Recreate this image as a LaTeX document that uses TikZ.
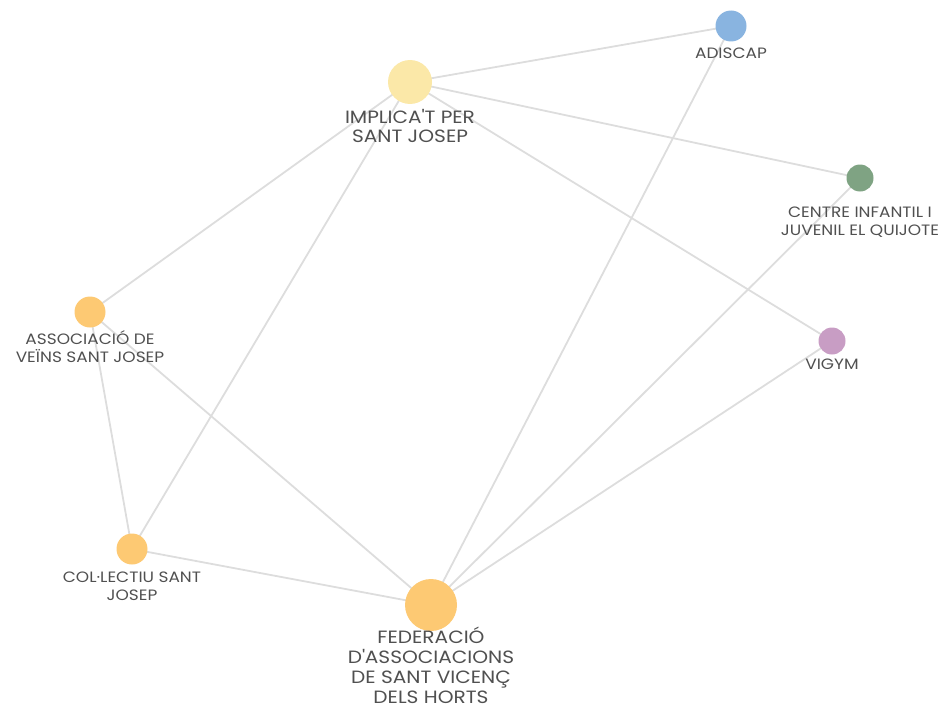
\documentclass[tikz,border=0pt]{standalone}
\usepackage{fontspec}
\setmainfont{Poppins}[FakeStretch=1.13]
\usetikzlibrary{backgrounds}
\definecolor{edgec}{HTML}{DDDDDD}
\definecolor{textc}{HTML}{505050}
\definecolor{cyel}{HTML}{FBE8A8}
\definecolor{cblue}{HTML}{89B4E0}
\definecolor{cgreen}{HTML}{7FA383}
\definecolor{corange}{HTML}{FDC973}
\definecolor{cpurple}{HTML}{C89DC4}
\begin{document}
\begin{tikzpicture}[x=1pt,y=-1pt,
  edge/.style={draw=edgec, line width=1.8pt},
  dot/.style={circle, inner sep=0pt, minimum size=#1},
  lblbig/.style={text=textc, align=center, inner sep=0pt, font=\fontsize{17.8}{19.5}\selectfont},
  lblsmall/.style={text=textc, align=center, inner sep=0pt, font=\fontsize{15}{18}\selectfont}]
\useasboundingbox (0,0) rectangle (941,709);
% nodes
\node[dot=44pt, fill=cyel] (imp) at (410,82) {};
\node[dot=31pt, fill=cblue] (adi) at (731,26) {};
\node[dot=27pt, fill=cgreen] (cen) at (860,178) {};
\node[dot=31pt, fill=corange] (ass) at (90,312) {};
\node[dot=27pt, fill=cpurple] (vig) at (832,341) {};
\node[dot=31pt, fill=corange] (col) at (132,549) {};
\node[dot=52pt, fill=corange] (fed) at (431,605) {};
% edges
\begin{scope}[on background layer]
\draw[edge] (imp.center) -- (adi.center);
\draw[edge] (imp.center) -- (cen.center);
\draw[edge] (imp.center) -- (vig.center);
\draw[edge] (imp.center) -- (ass.center);
\draw[edge] (imp.center) -- (col.center);
\draw[edge] (adi.center) -- (fed.center);
\draw[edge] (cen.center) -- (fed.center);
\draw[edge] (vig.center) -- (fed.center);
\draw[edge] (ass.center) -- (fed.center);
\draw[edge] (ass.center) -- (col.center);
\draw[edge] (col.center) -- (fed.center);
\end{scope}
% labels
\node[lblbig] (limp) at (410,126) {IMPLICA\textquotesingle T PER\\SANT JOSEP};
\node[lblsmall] (ladi) at (731,53) {ADISCAP};
\node[lblsmall] (lcen) at (860,222) {CENTRE INFANTIL I\\JUVENIL EL QUIJOTE};
\node[lblsmall] (lass) at (90,347) {ASSOCIACIÓ DE\\VEÏNS SANT JOSEP};
\node[lblsmall] (lvig) at (832,364) {VIGYM};
\node[lblsmall] (lcol) at (132,586) {COL·LECTIU SANT\\JOSEP};
\node[lblbig, font=\fontsize{17.8}{20}\selectfont] (lfed) at (431,665) {FEDERACIÓ\\D\textquotesingle ASSOCIACIONS\\DE SANT VICENÇ\\DELS HORTS};
\end{tikzpicture}
\end{document}
